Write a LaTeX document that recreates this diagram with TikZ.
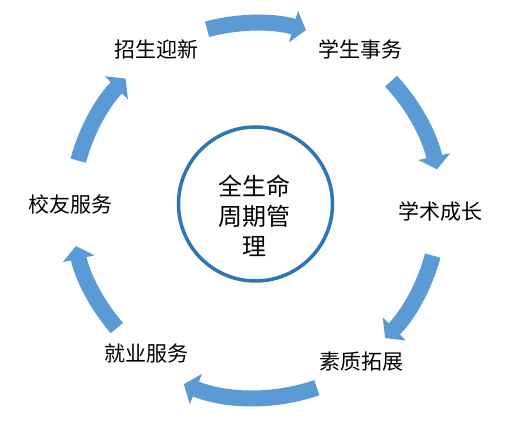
\documentclass[tikz,border=0pt]{standalone}
\usepackage{fontspec}
\setmainfont{Noto Sans CJK SC}
\usetikzlibrary{positioning,arrows.meta}
\definecolor{cycleBlue}{HTML}{5B9BD5}
\definecolor{ringBlue}{HTML}{2E75B6}

\begin{document}
\begin{tikzpicture}[x=1pt, y=1pt,
        stageLabel/.style={font=\fontsize{21}{25}\selectfont, inner sep=0pt},
        cycleArrow/.style={line width=16pt, draw=cycleBlue, -{Triangle[width=32pt, length=13pt]}}
    ]
        \useasboundingbox (0,0) rectangle (509,431);

        % Mitte
        \coordinate (hub) at (255,223);
        \node[circle, draw=ringBlue, line width=3.5pt, minimum size=154pt] (ring) at (255.5,227) {};
        \node[font=\fontsize{24}{30}\selectfont, align=center, inner sep=0pt] (title) at (254,215) {全生命\\周期管\\理};

        % Stationen
        \node[stageLabel] (recruit) at (156.5,382) {招生迎新};
        \node[stageLabel] (affairs) at (360,382) {学生事务};
        \node[stageLabel] (academic) at (440,219) {学术成长};
        \node[stageLabel] (quality) at (361,69) {素质拓展};
        \node[stageLabel] (career) at (146.5,77) {就业服务};
        \node[stageLabel] (alumni) at (70,227) {校友服务};

        % Pfeile im Kreis
        \draw[cycleArrow] ([shift={(105:185)}]hub) arc[start angle=105, end angle=74, radius=185];
        \draw[cycleArrow] ([shift={(43:186)}]hub) arc[start angle=43, end angle=12, radius=186];
        \draw[cycleArrow] ([shift={(-15:184)}]hub) arc[start angle=-15, end angle=-45, radius=184];
        \draw[cycleArrow] ([shift={(-71:190)}]hub) arc[start angle=-71, end angle=-112, radius=190];
        \draw[cycleArrow] ([shift={(221:183)}]hub) arc[start angle=221, end angle=192, radius=183];
        \draw[cycleArrow] ([shift={(165:183)}]hub) arc[start angle=165, end angle=135, radius=183];
    \end{tikzpicture}
\end{document}
